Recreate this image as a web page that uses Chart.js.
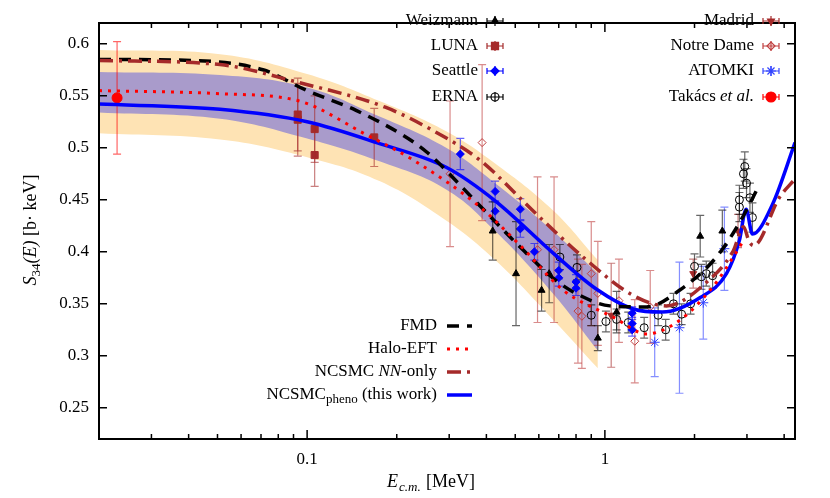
<!DOCTYPE html>
<html>
<head>
<meta charset="utf-8">
<script src="https://cdn.jsdelivr.net/npm/chart.js@4/dist/chart.umd.min.js"></script>
<style>
  body { margin: 0; background: #fff; }
  #wrap { width: 830px; height: 498px; }
</style>
</head>
<body>
<div id="wrap"><canvas id="s34Chart"></canvas></div>
<script>
// theory curves (E in MeV, S in b keV)
const blueE = [0.02, 0.051, 0.1, 0.175, 0.294, 0.428, 0.669, 0.938, 1.245, 1.56, 2.09, 2.56, 2.83, 2.98, 3.13, 3.66, 4.35];
const blueS = [0.542, 0.537, 0.525, 0.504, 0.481, 0.449, 0.399, 0.364, 0.345, 0.342, 0.356, 0.379, 0.411, 0.441, 0.417, 0.446, 0.505];
const fmdE = [0.02, 0.041, 0.071, 0.1, 0.146, 0.21, 0.252, 0.381, 0.505, 0.688, 0.825, 1.04, 1.38, 1.78, 2.37, 2.86, 3.27];
const fmdS = [0.585, 0.584, 0.575, 0.555, 0.536, 0.512, 0.496, 0.444, 0.408, 0.372, 0.358, 0.348, 0.347, 0.363, 0.395, 0.43, 0.462];
const haloE = [0.02, 0.051, 0.094, 0.157, 0.228, 0.381, 0.52, 0.725, 1.07, 1.38, 1.78, 2.3, 2.7, 2.91];
const haloS = [0.555, 0.552, 0.545, 0.513, 0.488, 0.443, 0.406, 0.363, 0.337, 0.321, 0.334, 0.366, 0.395, 0.41];
const nnE = [0.02, 0.051, 0.093, 0.183, 0.263, 0.381, 0.59, 0.868, 1.245, 1.61, 2.2, 2.7, 2.92, 3.05, 3.16, 3.85, 4.35];
const nnS = [0.584, 0.58, 0.563, 0.539, 0.517, 0.488, 0.436, 0.392, 0.358, 0.348, 0.371, 0.401, 0.424, 0.41, 0.406, 0.452, 0.47];

// uncertainty bands
const bandE = [0.02, 0.051, 0.1, 0.175, 0.293, 0.428, 0.669, 0.947];
const orangeHi = [0.594, 0.59, 0.571, 0.545, 0.516, 0.485, 0.44, 0.392];
const orangeLo = [0.514, 0.508, 0.491, 0.468, 0.43, 0.392, 0.335, 0.288];
const purpleHi = [0.573, 0.57, 0.558, 0.53, 0.5, 0.466, 0.42, 0.379];
const purpleLo = [0.534, 0.528, 0.509, 0.487, 0.46, 0.42, 0.36, 0.305];

// experiments: energy, S, half error
const weizE = [0.42, 0.503, 0.613, 0.65, 0.947, 1.095, 2.09, 2.48];
const weizS = [0.42, 0.379, 0.363, 0.379, 0.317, 0.342, 0.415, 0.42];
const weizErr = [0.028, 0.05, 0.02, 0.028, 0.012, 0.02, 0.02, 0.02];
const lunaE = [0.093, 0.093, 0.106, 0.106, 0.168];
const lunaS = [0.532, 0.527, 0.518, 0.493, 0.51];
const lunaErr = [0.035, 0.035, 0.032, 0.03, 0.028];
const seaE = [0.327, 0.428, 0.428, 0.52, 0.52, 0.58, 0.70, 0.70, 0.80, 0.80, 1.235, 1.235, 1.235];
const seaS = [0.494, 0.458, 0.439, 0.441, 0.422, 0.4, 0.382, 0.375, 0.371, 0.365, 0.341, 0.331, 0.325];
const seaErr = [0.015, 0.01, 0.01, 0.01, 0.008, 0.008, 0.008, 0.008, 0.007, 0.007, 0.006, 0.006, 0.006];
const ernaE = [0.706, 0.806, 0.90, 1.008, 1.095, 1.198, 1.355, 1.51, 1.6, 1.7, 1.81, 1.94, 2.0, 2.11, 2.19, 2.3, 2.83, 2.83, 2.92, 2.95, 2.99, 3.07, 3.13];
const ernaS = [0.395, 0.385, 0.339, 0.333, 0.335, 0.332, 0.327, 0.339, 0.325, 0.35, 0.34, 0.35, 0.386, 0.376, 0.379, 0.377, 0.443, 0.45, 0.475, 0.482, 0.466, 0.452, 0.433];
const ernaErr = [0.012, 0.012, 0.01, 0.01, 0.01, 0.01, 0.01, 0.01, 0.01, 0.01, 0.01, 0.01, 0.012, 0.012, 0.012, 0.012, 0.014, 0.014, 0.014, 0.014, 0.014, 0.014, 0.014];
const madE = [1.05, 1.98, 2.8];
const madS = [0.339, 0.379, 0.42];
const madErr = [0.05, 0.014, 0.016];
const ndE = [0.302, 0.387, 0.594, 0.675, 0.812, 0.837, 0.90, 0.947, 1.115, 1.26, 1.42];
const ndS = [0.475, 0.505, 0.402, 0.402, 0.343, 0.338, 0.379, 0.36, 0.353, 0.314, 0.347];
const ndErr = [0.07, 0.075, 0.07, 0.07, 0.05, 0.05, 0.05, 0.05, 0.04, 0.04, 0.035];
const atoE = [1.47, 1.78, 2.14, 2.52];
const atoS = [0.313, 0.327, 0.351, 0.403];
const atoErr = [0.033, 0.063, 0.035, 0.04];
const takE = [0.023];
const takS = [0.548];
const takErr = [0.054];

const xTicks = [0.1, 1];
const yTicks = [0.25, 0.3, 0.35, 0.4, 0.45, 0.5, 0.55, 0.6];

const serif = '"Liberation Serif", "DejaVu Serif", serif';
const brown = '#a52a2a';

function pts(xs, ys) { return xs.map((x, i) => ({ x: x, y: ys[i] })); }

function curve(xs, ys, color, width, dash) {
  return { type: 'line', data: pts(xs, ys), borderColor: color, borderWidth: width,
    borderDash: dash, pointRadius: 0, cubicInterpolationMode: 'monotone', fill: false, order: 1 };
}
function band(xs, ys, color, fill, order) {
  return { type: 'line', data: pts(xs, ys), borderWidth: 0, borderColor: 'transparent',
    backgroundColor: color, pointRadius: 0, tension: 0.4, fill: fill, order: order };
}
function expt(xs, ys, errs, style, color, filled, r, rot) {
  return { type: 'scatter', data: pts(xs, ys), errs: errs, errColor: color,
    pointStyle: style, pointRadius: r, rotation: rot || 0, borderColor: color, borderWidth: 1,
    backgroundColor: filled ? color : 'rgba(0,0,0,0)', order: 3 };
}

const datasets = [
  band(bandE, orangeLo, '#fee3b4', false, 12),
  band(bandE, orangeHi, '#fee3b4', '-1', 11),
  band(bandE, purpleLo, '#a99bcb', false, 10),
  band(bandE, purpleHi, '#a99bcb', '-1', 9),
  expt(weizE, weizS, weizErr, 'triangle', '#000', true, 4),
  expt(lunaE, lunaS, lunaErr, 'rect', brown, true, 5),
  expt(seaE, seaS, seaErr, 'rectRot', '#0000ff', true, 4),
  expt(ernaE, ernaS, ernaErr, 'circle', '#000', false, 4),
  expt(madE, madS, madErr, 'triangle', brown, true, 4, 180),
  expt(ndE, ndS, ndErr, 'rectRot', '#c04040', false, 4),
  expt(atoE, atoS, atoErr, 'star', '#3344ff', false, 5),
  expt(takE, takS, takErr, 'circle', '#ff0000', true, 5),
  curve(nnE, nnS, brown, 3.5, [14, 6, 3, 6]),
  curve(haloE, haloS, '#ff0000', 3, [3, 6]),
  curve(fmdE, fmdS, '#000', 3.5, [12, 8]),
  curve(blueE, blueS, '#0000ff', 3.5, [])
];

const errorBars = {
  id: 'errorBars',
  afterDatasetDraw(chart, args) {
    const ds = chart.data.datasets[args.index];
    if (!ds.errs) return;
    const ctx = chart.ctx, xs = chart.scales.x, ys = chart.scales.y;
    ctx.save();
    ctx.strokeStyle = ds.errColor;
    ctx.globalAlpha = 0.6;
    ctx.lineWidth = 1.2;
    ds.data.forEach((p, i) => {
      const px = xs.getPixelForValue(p.x);
      const top = ys.getPixelForValue(p.y + ds.errs[i]);
      const bot = ys.getPixelForValue(p.y - ds.errs[i]);
      ctx.beginPath();
      ctx.moveTo(px, top); ctx.lineTo(px, bot);
      ctx.moveTo(px - 4, top); ctx.lineTo(px + 4, top);
      ctx.moveTo(px - 4, bot); ctx.lineTo(px + 4, bot);
      ctx.stroke();
    });
    ctx.restore();
  }
};

function marker(ctx, ds, x, y) {
  ctx.save();
  ctx.strokeStyle = ds.errColor;
  ctx.lineWidth = 1.2;
  ctx.beginPath();
  ctx.moveTo(x - 8, y); ctx.lineTo(x + 8, y);
  ctx.moveTo(x, y - 5); ctx.lineTo(x, y + 5);
  ctx.moveTo(x - 8, y - 3); ctx.lineTo(x - 8, y + 3);
  ctx.moveTo(x + 8, y - 3); ctx.lineTo(x + 8, y + 3);
  ctx.stroke();
  Chart.helpers.drawPoint(ctx, {
    pointStyle: ds.pointStyle, radius: ds.pointRadius, rotation: ds.rotation,
    borderWidth: 1
  }, x, y);
  ctx.restore();
}

const frame = {
  id: 'frame',
  afterDraw(chart) {
    const ctx = chart.ctx, a = chart.chartArea, xs = chart.scales.x, ys = chart.scales.y;
    ctx.save();
    ctx.strokeStyle = '#000';
    ctx.lineWidth = 2;
    ctx.strokeRect(a.left, a.top, a.right - a.left, a.bottom - a.top);
    ctx.lineWidth = 1.5;
    ctx.beginPath();
    yTicks.forEach(v => {
      const py = ys.getPixelForValue(v);
      ctx.moveTo(a.left, py); ctx.lineTo(a.left + 8, py);
      ctx.moveTo(a.right, py); ctx.lineTo(a.right - 8, py);
    });
    for (let d = 0.01; d < 10; d *= 10) {
      for (let k = 1; k < 10; k++) {
        const v = d * k;
        if (v < xs.min || v > xs.max) continue;
        const px = xs.getPixelForValue(v);
        const len = k === 1 ? 9 : 5;
        ctx.moveTo(px, a.bottom); ctx.lineTo(px, a.bottom - len);
        ctx.moveTo(px, a.top); ctx.lineTo(px, a.top + len);
      }
    }
    ctx.stroke();

    // axis titles
    ctx.fillStyle = '#000';
    ctx.textBaseline = 'alphabetic';
    ctx.save();
    ctx.translate(30, 230);
    ctx.rotate(-Math.PI / 2);
    let t1 = 'S', t2 = '34', t3 = '(E)', t4 = ' [b· keV]';
    ctx.font = '18px ' + serif;
    const w4 = ctx.measureText(t4).width;
    ctx.font = 'italic 18px ' + serif;
    const w1 = ctx.measureText(t1).width, w3 = ctx.measureText(t3).width;
    ctx.font = '13px ' + serif;
    const w2 = ctx.measureText(t2).width;
    let x0 = -(w1 + w2 + w3 + w4) / 2;
    ctx.textAlign = 'left';
    ctx.font = 'italic 18px ' + serif; ctx.fillText(t1, x0, 6); x0 += w1;
    ctx.font = '13px ' + serif; ctx.fillText(t2, x0, 10); x0 += w2;
    ctx.font = 'italic 18px ' + serif; ctx.fillText(t3, x0, 6); x0 += w3;
    ctx.font = '18px ' + serif; ctx.fillText(t4, x0, 6);
    ctx.restore();

    ctx.textAlign = 'left';
    ctx.font = 'italic 18px ' + serif; ctx.fillText('E', 387, 487);
    ctx.font = 'italic 13px ' + serif; ctx.fillText('c.m.', 399, 491);
    ctx.font = '18px ' + serif; ctx.fillText('[MeV]', 426, 487);

    // experiment legend
    const ds = chart.data.datasets;
    const exps = [
      ['Weizmann', 4, 478, 21], ['LUNA', 5, 478, 46], ['Seattle', 6, 478, 71], ['ERNA', 7, 478, 97],
      ['Madrid', 8, 754, 21], ['Notre Dame', 9, 754, 46], ['ATOMKI', 10, 754, 71], ['Takács', 11, 754, 97]
    ];
    ctx.font = '17px ' + serif;
    ctx.textBaseline = 'middle';
    exps.forEach(([name, idx, x, y]) => {
      ctx.textAlign = 'right';
      ctx.fillStyle = '#000';
      if (name === 'Takács') {
        ctx.font = 'italic 17px ' + serif;
        const wi = ctx.measureText('et al.').width;
        ctx.fillText('et al.', x, y);
        ctx.font = '17px ' + serif;
        ctx.fillText('Takács ', x - wi, y);
      } else {
        ctx.font = '17px ' + serif;
        ctx.fillText(name, x, y);
      }
      const d = ds[idx];
      ctx.fillStyle = d.backgroundColor;
      ctx.strokeStyle = d.borderColor;
      marker(ctx, d, x + 17, y);
    });

    // theory legend
    const lines = [[14, 'FMD', 326], [13, 'Halo-EFT', 349], [12, null, 372], [15, null, 395]];
    ctx.textAlign = 'right';
    lines.forEach(([idx, label, y]) => {
      ctx.fillStyle = '#000';
      if (idx === 12) {
        ctx.font = '17px ' + serif; ctx.fillText('-only', 437, y);
        const wa = ctx.measureText('-only').width;
        ctx.font = 'italic 17px ' + serif; ctx.fillText('NN', 437 - wa, y);
        const wb = ctx.measureText('NN').width;
        ctx.font = '17px ' + serif; ctx.fillText('NCSMC ', 437 - wa - wb, y);
      } else if (idx === 15) {
        ctx.font = '17px ' + serif; ctx.fillText(' (this work)', 437, y);
        const wa = ctx.measureText(' (this work)').width;
        ctx.font = '13px ' + serif; ctx.fillText('pheno', 437 - wa, y + 5);
        const wb = ctx.measureText('pheno').width;
        ctx.font = '17px ' + serif; ctx.fillText('NCSMC', 437 - wa - wb, y);
      } else {
        ctx.font = '17px ' + serif; ctx.fillText(label, 437, y);
      }
      const d = ds[idx];
      ctx.strokeStyle = d.borderColor;
      ctx.lineWidth = d.borderWidth;
      ctx.setLineDash(d.borderDash || []);
      ctx.beginPath(); ctx.moveTo(447, y); ctx.lineTo(472, y); ctx.stroke();
      ctx.setLineDash([]);
    });
    ctx.restore();
  }
};

new Chart(document.getElementById('s34Chart'), {
  data: { datasets: datasets },
  options: {
    responsive: true,
    maintainAspectRatio: false,
    animation: false,
    layout: { padding: { top: 23, right: 35, left: 0, bottom: 0 } },
    plugins: { legend: { display: false }, tooltip: { enabled: false } },
    scales: {
      x: {
        type: 'logarithmic', min: 0.02, max: 4.35,
        grid: { display: false, drawTicks: false }, border: { display: false },
        afterBuildTicks: s => { s.ticks = xTicks.map(v => ({ value: v })); },
        afterFit: s => { s.height = 59; },
        ticks: { color: '#000', font: { family: serif, size: 17 }, padding: 10,
          callback: v => String(v) }
      },
      y: {
        min: 0.22, max: 0.62,
        grid: { display: false, drawTicks: false }, border: { display: false },
        afterBuildTicks: s => { s.ticks = yTicks.map(v => ({ value: v })); },
        afterFit: s => { s.width = 99; },
        ticks: { color: '#000', font: { family: serif, size: 17 }, padding: 10,
          callback: v => String(Math.round(v * 100) / 100) }
      }
    }
  },
  plugins: [errorBars, frame]
});
</script>
</body>
</html>
